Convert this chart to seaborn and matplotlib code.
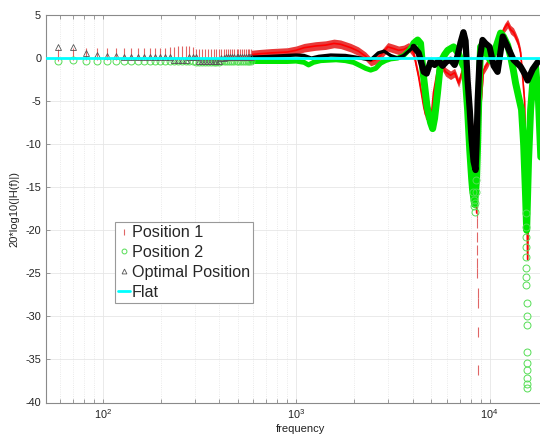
import numpy as np
import pandas as pd
import matplotlib
matplotlib.use("Agg")
import matplotlib.pyplot as plt
from matplotlib.lines import Line2D
from matplotlib.ticker import LogLocator, FixedLocator, NullFormatter
import seaborn as sns

# frequency bins at low frequency (individual markers visible)
bin_freq = [58.6, 70.3, 82.0, 93.8, 105.5, 117.2, 128.9, 140.6, 152.3, 164.1,
            175.8, 187.5, 199.2, 210.9, 222.7, 234.4, 246.1, 257.8, 269.5, 281.3,
            293.0, 304.7, 316.4, 328.1, 339.8, 351.6, 363.3, 375.0, 386.7, 398.4,
            410.2, 421.9, 433.6, 445.3, 457.0, 468.8, 480.5, 492.2, 503.9, 515.6,
            527.3, 539.1, 550.8, 562.5, 574.2, 585.9]
pos1_bins = [0.4, 0.5, 0.5, 0.5, 0.5, 0.5, 0.5, 0.5, 0.5, 0.5,
             0.5, 0.5, 0.5, 0.5, 0.6, 0.6, 0.7, 0.7, 0.7, 0.7,
             0.6, 0.4, 0.3, 0.3, 0.3, 0.3, 0.3, 0.3, 0.3, 0.3,
             0.3, 0.3, 0.3, 0.3, 0.3, 0.3, 0.3, 0.4, 0.4, 0.4,
             0.4, 0.4, 0.4, 0.4, 0.4, 0.4]
pos2_bins = [-0.3, -0.2, -0.3, -0.3, -0.3, -0.3, -0.3, -0.3, -0.3, -0.3,
             -0.3, -0.3, -0.3, -0.3, -0.3, -0.35, -0.35, -0.35, -0.35, -0.4,
             -0.4, -0.45, -0.45, -0.45, -0.45, -0.45, -0.45, -0.45, -0.45, -0.45,
             -0.4, -0.4, -0.4, -0.4, -0.4, -0.4, -0.4, -0.4, -0.4, -0.4,
             -0.4, -0.4, -0.4, -0.4, -0.4, -0.4]
opt_bins = [1.3, 1.3, 0.6, 0.3, 0.2, 0.2, 0.15, 0.15, 0.1, 0.1,
            0.1, 0.1, 0.1, 0.1, 0.1, -0.2, -0.2, -0.25, -0.2, 0.1,
            0.1, 0.1, -0.3, -0.3, -0.3, -0.3, -0.3, -0.3, -0.3, -0.3,
            0.0, 0.0, 0.1, 0.1, 0.1, 0.1, 0.1, 0.1, 0.1, 0.1,
            0.1, 0.1, 0.1, 0.1, 0.1, 0.1]

# dense part (markers merge into bands)
pos1_freq = [586, 650, 742, 900, 1000, 1100, 1260, 1420, 1570, 1700, 1920, 2100,
             2290, 2430, 2580, 2735, 2980, 3190, 3390, 3600, 3820, 4050, 4300,
             4570, 4670, 4840, 5020, 5130, 5380, 5580, 5925, 6285, 6600, 6920,
             7330, 7730, 8170, 8465, 8580, 8700, 8985, 9300, 9770, 10500, 11400,
             11950, 12400, 12840, 13300, 13630, 14100, 14470, 14800, 15170, 15550,
             15730, 16100, 16500, 17100, 17700, 18400]
pos1_vals = [0.4, 0.5, 0.6, 0.7, 0.9, 1.2, 1.4, 1.5, 1.7, 1.6, 1.2, 0.8,
             0.2, -0.4, -0.2, 0.3, 1.3, 1.1, 0.9, 1.0, 1.3, 0.6, -2.2,
             -5.7, -6.6, -6.8, -6.3, -4.0, -1.4, -0.6, -1.6, -2.0, -1.7, -2.9,
             -1.0, -3.0, -8.0, -14.0, -18.0, -12.0, -6.0, -1.4, -0.6, 0.9, 2.5,
             3.5, 4.0, 3.3, 3.0, 2.5, 1.7, 0.6, -2.0, -5.0, -15.0,
             -23.4, -10.0, -3.0, -2.0, -3.5, -9.0]

pos2_freq = [586, 742, 900, 1000, 1100, 1160, 1230, 1340, 1610, 1800, 1980, 2155,
             2290, 2430, 2580, 2735, 2900, 3080, 3350, 3600, 3820, 4050, 4250,
             4400, 4540, 4750, 4955, 5080, 5200, 5380, 5580, 5860, 6080, 6520,
             6920, 7170, 7430, 7700, 7900, 8080, 8170, 8370, 8570, 8680, 8790,
             8985, 9300, 9650, 10120, 10620, 11400, 11800, 12400, 12840, 13300,
             13630, 14100, 14630, 15000, 15350, 15550, 15900, 16300, 16700, 17300,
             17900, 18400]
pos2_vals = [-0.4, -0.4, -0.4, -0.35, -0.5, -0.8, -0.5, -0.3, -0.2, -0.3, -0.5, -0.9,
             -1.2, -1.4, -1.2, -0.6, -0.3, -0.1, 0.0, 0.3, 0.9, 1.7, 2.1,
             1.7, -1.8, -5.6, -7.5, -8.2, -7.0, -4.1, -0.5, 0.4, 0.9, 1.3,
             0.5, -0.5, -1.2, -6.0, -10.7, -14.0, -15.3, -17.0, -14.0, -10.0, -5.0,
             1.3, 1.7, 0.5, -0.3, 0.8, 2.9, 2.5, 1.5, 0.2, -1.5,
             -2.9, -4.4, -6.0, -10.0, -16.0, -20.0, -12.0, -6.0, -3.0, -1.0,
             -5.0, -11.5]

opt_freq = [586, 742, 900, 1000, 1100, 1200, 1310, 1510, 1800, 2050, 2250, 2430,
            2660, 2850, 3080, 3350, 3600, 3820, 4050, 4300, 4570, 4730, 4955,
            5200, 5450, 5720, 6000, 6285, 6600, 6840, 7080, 7330, 7515, 7700,
            7900, 8080, 8270, 8465, 8570, 8680, 8880, 9200, 9535, 10000, 10500,
            11000, 11700, 12400, 13300, 14470, 15170, 15730, 16700, 17700]
opt_vals = [0.1, 0.2, 0.3, 0.35, 0.3, 0.0, 0.2, 0.35, 0.3, 0.1, -0.1, -0.2,
            0.6, 0.8, 0.3, 0.0, 0.3, 0.8, 1.3, 0.6, -1.6, -1.8, -0.4,
            -0.8, -0.3, -0.9, -0.4, -0.2, -0.8, 0.3, 1.8, 3.0, 2.0, -2.6,
            -6.0, -9.5, -12.0, -13.0, -10.0, -5.0, -0.2, 2.1, 1.7, 1.3, -0.9,
            -1.6, 2.5, 1.3, -0.2, -1.0, -1.8, -2.6, -1.3, -0.5]

# scattered markers in the deep notches
pos1_tail_freq = [8600, 8612, 8624, 8636, 8648, 8660, 8672, 8684, 8696, 8708]
pos1_tail_vals = [-18.0, -19.2, -20.8, -22.3, -23.8, -25.0, -27.3, -28.5, -31.8, -36.2]
pos2_tail_freq = [8250, 8300, 8350, 8400, 8450, 8500, 8550,
                  15450, 15460, 15470, 15480, 15490, 15500, 15510, 15520, 15530,
                  15540, 15550, 15560, 15570, 15580, 15590, 15600, 15610]
pos2_tail_vals = [-15.5, -16.5, -17.2, -17.9, -16.8, -15.6, -14.2,
                  -18.0, -19.6, -20.8, -22.0, -23.1, -24.4, -25.4, -26.4, -28.5,
                  -29.9, -31.0, -34.1, -35.4, -36.2, -37.1, -37.8, -38.3]

RED = "#ff0000"
GREEN = "#00e600"
CYAN = "#00ffff"
SPLIT = 4050  # bands get thicker above this frequency (denser markers)

sns.set_theme(style="white")
plt.rcParams['font.family'] = ['Liberation Sans', 'DejaVu Sans']
plt.rcParams['mathtext.default'] = 'regular'
plt.rcParams['axes.unicode_minus'] = False

fig = plt.figure(figsize=(5.4, 4.34), dpi=100)
ax = fig.add_axes([46 / 540, 31.5 / 434, 510 / 540, 387.5 / 434])

# Position 1
p1 = pd.DataFrame({'f': pos1_freq, 'v': pos1_vals})
ax.fill_between(p1['f'], p1['v'] - 0.5, p1['v'] + 0.5, color="#e83a3a",
                lw=0, zorder=2)
sns.lineplot(data=p1, x='f', y='v', ax=ax, color=RED, lw=1.2, sort=False,
             zorder=2)
ax.plot(bin_freq, pos1_bins, ls='none', marker='|', ms=8, mew=0.8,
        color="#e06666", zorder=2)
ax.plot(pos1_tail_freq, pos1_tail_vals, ls='none', marker='|', ms=7, mew=0.8,
        color="#e06666", zorder=2)

# Position 2
p2 = pd.DataFrame({'f': pos2_freq, 'v': pos2_vals})
sns.lineplot(data=p2[p2['f'] <= SPLIT], x='f', y='v', ax=ax, color=GREEN,
             lw=3.6, sort=False, zorder=3)
sns.lineplot(data=p2[p2['f'] >= SPLIT], x='f', y='v', ax=ax, color=GREEN,
             lw=5, sort=False, zorder=3)
ax.plot(bin_freq, pos2_bins, ls='none', marker='o', ms=5, mew=0.7,
        mfc='none', mec="#55dd55", zorder=3)
ax.plot(pos2_tail_freq, pos2_tail_vals, ls='none', marker='o', ms=5, mew=0.7,
        mfc='none', mec="#55dd55", zorder=3)

# Optimal position
po = pd.DataFrame({'f': opt_freq, 'v': opt_vals})
sns.lineplot(data=po[po['f'] <= SPLIT], x='f', y='v', ax=ax, color='black',
             lw=2.4, sort=False, zorder=4)
sns.lineplot(data=po[po['f'] >= SPLIT], x='f', y='v', ax=ax, color='black',
             lw=4.5, sort=False, zorder=4)
ax.plot(bin_freq, opt_bins, ls='none', marker='^', ms=5, mew=0.6,
        mfc='none', mec="#555555", zorder=4)

# Flat
ax.axhline(0, color=CYAN, lw=2, zorder=5)

ax.set_xscale('log')
ax.set_xlim(51, 22050)
ax.set_ylim(-40, 5)
ax.set_yticks(np.arange(-40, 6, 5))
ax.xaxis.set_major_locator(FixedLocator([100, 1000, 10000]))
ax.xaxis.set_minor_locator(LogLocator(base=10, subs=np.arange(2, 10)))
ax.xaxis.set_minor_formatter(NullFormatter())
ax.grid(True, which='major', color='#e6e6e6', lw=0.6)
ax.grid(True, which='minor', axis='x', color='#e3e3e3', lw=0.6, ls=':')
ax.set_axisbelow(True)
for s in ['left', 'bottom', 'top']:
    ax.spines[s].set_color('#8a8a8a')
    ax.spines[s].set_linewidth(0.8)
ax.spines['right'].set_visible(False)
ax.tick_params(which='both', direction='in', colors='#8a8a8a', labelcolor='#222222',
               labelsize=7.8, length=3, width=0.6)
ax.tick_params(which='both', top=True, bottom=True, left=True)
ax.set_xlabel('frequency', fontsize=8, color='#222222', labelpad=2)
ax.set_ylabel('20*log10(|H(f)|)', fontsize=8, color='#222222', labelpad=4)

handles = [
    Line2D([], [], ls='none', marker='|', ms=5, mew=0.8, color="#e06666"),
    Line2D([], [], ls='none', marker='o', ms=3.5, mew=0.7, mfc='none', mec="#55dd55"),
    Line2D([], [], ls='none', marker='^', ms=3.5, mew=0.6, mfc='none', mec="#555555"),
    Line2D([], [], color=CYAN, lw=2),
]
leg = ax.legend(handles, ['Position 1', 'Position 2', 'Optimal Position', 'Flat'],
                loc='lower left', bbox_to_anchor=(0.135, 0.257), fontsize=11.6,
                frameon=True, fancybox=False, framealpha=1, edgecolor='#999999',
                handlelength=0.75, handletextpad=0.1, borderpad=0.2,
                labelspacing=0.3, borderaxespad=0)
leg.get_frame().set_linewidth(0.8)

fig.savefig('out.png', dpi=100)
